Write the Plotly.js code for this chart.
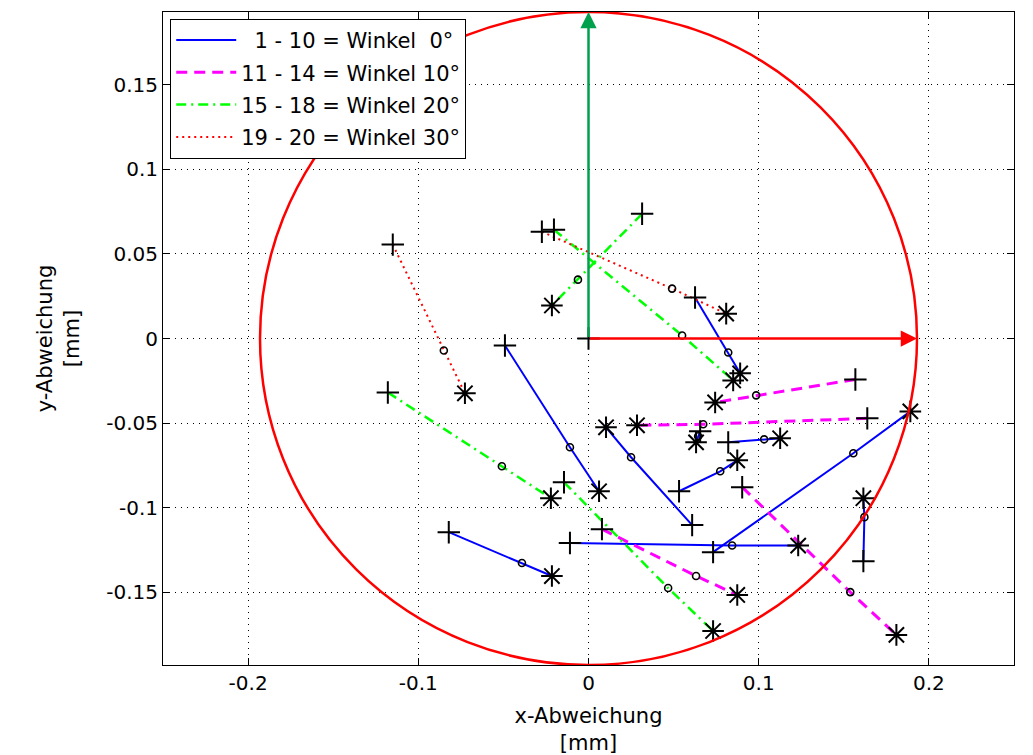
<!DOCTYPE html>
<html>
<head>
<meta charset="utf-8">
<script src="https://cdn.plot.ly/plotly-3.0.1.min.js"></script>
<style>html,body{margin:0;padding:0;background:#fff;}#chart{width:1033px;height:755px;}</style>
</head>
<body>
<div id="chart"></div>
<script>
// ---- Data: each measurement line has a start (+), a middle point (o) and an end (*) ----
// Lines 1 - 10 (Winkel 0°)
const blueStartX = [-0.0491, 0.0626, -0.0109, 0.0732, -0.0821, 0.0609, 0.0532, 0.0656, 0.0821, 0.1615];
const blueStartY = [-0.0041, 0.0242, -0.1209, -0.1263, -0.1145, -0.1103, -0.0903, -0.0549, -0.0614, -0.1316];
const blueMidX   = [-0.0109, 0.0821, 0.0844, 0.1556, -0.0391, 0.0250, 0.0774, 0.0644, 0.1032, 0.1621];
const blueMidY   = [-0.0643, -0.0083, -0.1224, -0.0678, -0.1327, -0.0702, -0.0785, -0.0578, -0.0596, -0.1056];
const blueEndX   = [0.0062, 0.0891, 0.1232, 0.1891, -0.0215, 0.0103, 0.0874, 0.0632, 0.1126, 0.1615];
const blueEndY   = [-0.0903, -0.0206, -0.1224, -0.0431, -0.1404, -0.0525, -0.0720, -0.0614, -0.0590, -0.0944];

// Lines 11 - 14 (Winkel 10°)
const magStartX = [0.1568, 0.1638, 0.0903, 0.0079];
const magStartY = [-0.0242, -0.0472, -0.0879, -0.1127];
const magMidX   = [0.0985, 0.0674, 0.1538, 0.0632];
const magMidY   = [-0.0336, -0.0507, -0.1499, -0.1404];
const magEndX   = [0.0744, 0.0285, 0.1809, 0.0874];
const magEndY   = [-0.0378, -0.0513, -0.1752, -0.1516];

// Lines 15 - 18 (Winkel 20°)
const grnStartX = [0.0315, -0.0203, -0.1179, -0.0144];
const grnStartY = [0.0737, 0.0643, -0.0319, -0.0850];
const grnMidX   = [-0.0062, 0.0550, -0.0509, 0.0468];
const grnMidY   = [0.0348, 0.0018, -0.0755, -0.1475];
const grnEndX   = [-0.0215, 0.0850, -0.0221, 0.0732];
const grnEndY   = [0.0195, -0.0248, -0.0944, -0.1729];

// Lines 19 - 20 (Winkel 30°)
const redStartX = [-0.1150, -0.0274];
const redStartY = [0.0555, 0.0631];
const redMidX   = [-0.0850, 0.0491];
const redMidY   = [-0.0071, 0.0295];
const redEndX   = [-0.0726, 0.0809];
const redEndY   = [-0.0324, 0.0147];

const seriesNames = ['\u00a0\u00a01 - 10 = Winkel\u00a0\u00a00°', '11 - 14 = Winkel 10°', '15 - 18 = Winkel 20°', '19 - 20 = Winkel 30°'];

const toleranceRadius = 0.193;   // radius of the red tolerance circle [mm]
const originX = [0];
const originY = [0];

const xTickVals = [-0.2, -0.1, 0, 0.1, 0.2];
const xTickText = ['-0.2', '-0.1', '0', '0.1', '0.2'];
const yTickVals = [-0.15, -0.1, -0.05, 0, 0.05, 0.1, 0.15];
const yTickText = ['-0.15', '-0.1', '-0.05', '0', '0.05', '0.1', '0.15'];

// ---- Build traces ----
function segs(sx, sy, mx, my, ex, ey) {
  const x = [], y = [];
  for (let i = 0; i < sx.length; i++) {
    x.push(sx[i], mx[i], ex[i], null);
    y.push(sy[i], my[i], ey[i], null);
  }
  return {x, y};
}

const groups = [
  {name: seriesNames[0], color: '#0000ff', dash: 'solid', width: 2, d: [blueStartX, blueStartY, blueMidX, blueMidY, blueEndX, blueEndY]},
  {name: seriesNames[1], color: '#ff00ff', dash: '11px,7px', width: 3, d: [magStartX, magStartY, magMidX, magMidY, magEndX, magEndY]},
  {name: seriesNames[2], color: '#00ff00', dash: '10px,5px,2px,5px', width: 2.5, d: [grnStartX, grnStartY, grnMidX, grnMidY, grnEndX, grnEndY]},
  {name: seriesNames[3], color: '#ff0000', dash: '2px,4px', width: 2, d: [redStartX, redStartY, redMidX, redMidY, redEndX, redEndY]}
];

const traces = [];
groups.forEach((g, i) => {
  const s = segs(...g.d);
  traces.push({
    type: 'scatter', mode: 'lines', name: g.name, x: s.x, y: s.y,
    line: {color: g.color, width: g.width, dash: g.dash},
    legendgroup: 'g' + i, hoverinfo: 'skip'
  });
});

const markerLine = {color: '#000', width: 2};
groups.forEach((g) => {
  const [sx, sy, mx, my, ex, ey] = g.d;
  traces.push({type: 'scatter', mode: 'markers', x: sx, y: sy, showlegend: false,
    marker: {symbol: 'cross-thin-open', size: 16, color: '#000', line: markerLine}});
  traces.push({type: 'scatter', mode: 'markers', x: mx, y: my, showlegend: false,
    marker: {symbol: 'circle-open', size: 7, color: '#000', line: {color: '#000', width: 1.6}}});
  traces.push({type: 'scatter', mode: 'markers', x: ex, y: ey, showlegend: false,
    marker: {symbol: 'asterisk-open', size: 18, color: '#000', line: markerLine}});
});
traces.push({type: 'scatter', mode: 'markers', x: originX, y: originY, showlegend: false,
  marker: {symbol: 'cross-thin-open', size: 16, color: '#000', line: markerLine}});

const font = {family: 'DejaVu Sans, Verdana, sans-serif', color: '#000'};

const layout = {
  width: 1033, height: 755,
  margin: {l: 163, r: 19, t: 12, b: 90},
  paper_bgcolor: '#fff', plot_bgcolor: '#fff',
  font: Object.assign({size: 20}, font),
  showlegend: true,
  legend: {
    x: 0.0085, y: 0.9895, xanchor: 'left', yanchor: 'top',
    bgcolor: '#fff', bordercolor: '#000', borderwidth: 1,
    font: Object.assign({size: 21}, font),
    itemwidth: 60, tracegroupgap: 2
  },
  xaxis: {
    range: [-0.25, 0.25], tickvals: xTickVals, ticktext: xTickText,
    showgrid: true, gridcolor: '#000', griddash: '1px,5px', gridwidth: 1,
    zeroline: false, showline: true, linecolor: '#000', linewidth: 1, mirror: 'ticks',
    ticks: 'inside', ticklen: 7, tickcolor: '#000',
    tickfont: Object.assign({size: 20}, font),
    title: {text: 'x-Abweichung<br>[mm]', font: Object.assign({size: 21}, font), standoff: 14}
  },
  yaxis: {
    range: [-toleranceRadius, toleranceRadius], tickvals: yTickVals, ticktext: yTickText,
    showgrid: true, gridcolor: '#000', griddash: '1px,5px', gridwidth: 1,
    zeroline: false, showline: true, linecolor: '#000', linewidth: 1, mirror: 'ticks',
    ticks: 'inside', ticklen: 7, tickcolor: '#000',
    tickfont: Object.assign({size: 20}, font),
    title: {text: 'y-Abweichung<br>[mm]', font: Object.assign({size: 21}, font), standoff: 20}
  },
  shapes: [
    {type: 'circle', xref: 'x', yref: 'y', x0: -toleranceRadius, x1: toleranceRadius,
     y0: -toleranceRadius, y1: toleranceRadius, line: {color: '#ff0000', width: 2.5}, layer: 'above'}
  ],
  annotations: [
    {xref: 'x', yref: 'y', axref: 'x', ayref: 'y', x: 0, y: toleranceRadius, ax: 0, ay: 0,
     text: '', showarrow: true, arrowhead: 2, arrowsize: 1.3, arrowwidth: 2.5, arrowcolor: '#00a04c', standoff: 0},
    {xref: 'x', yref: 'y', axref: 'x', ayref: 'y', x: toleranceRadius, y: 0, ax: 0, ay: 0,
     text: '', showarrow: true, arrowhead: 2, arrowsize: 1.3, arrowwidth: 2.5, arrowcolor: '#ff0000', standoff: 0}
  ]
};

Plotly.newPlot('chart', traces, layout, {displayModeBar: false, staticPlot: true});
</script>
</body>
</html>
